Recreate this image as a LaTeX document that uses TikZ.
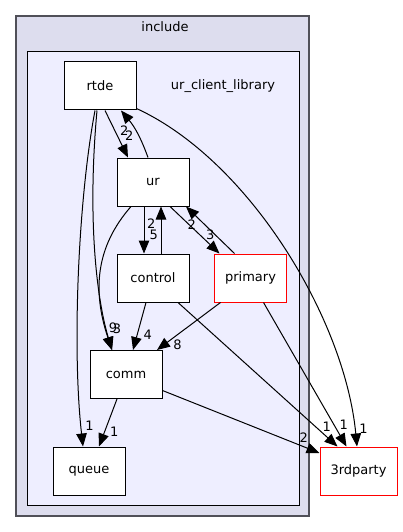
\documentclass[tikz,border=0pt]{standalone}
\usepackage{fontspec}
\setmainfont{DejaVu Sans}
\usepackage{tikz}
\usetikzlibrary{
  arrows.meta,%
  positioning
}
\definecolor{outerfill}{HTML}{DDDDEE}
\definecolor{innerfill}{HTML}{EEEEFF}
\definecolor{outerline}{HTML}{505058}
\tikzset{>={Triangle[length=13pt,width=10.5pt]}}
\tikzset{font=\fontsize{13}{15}\selectfont}
\tikzset{dirbox/.style={draw, fill=white, line width=1pt, minimum width=72pt,
    minimum height=48pt, inner sep=0pt},
  extbox/.style={dirbox, draw=red},
  dep/.style={->, line width=1pt},
  num/.style={inner sep=1pt}}

\begin{document}
\begin{tikzpicture}[x=1pt, y=-1pt]
  \useasboundingbox (0,0) rectangle (403,532);
  % clusters
  \draw[outerline, fill=outerfill, line width=1.4pt] (16,16) rectangle (309,516);
  \node (inc) at (165,27) {include};
  \draw[fill=innerfill, line width=1pt] (27,52) rectangle (299,505);
  \node (lib) at (223,86) {ur\_client\_library};

  % directories
  \node[dirbox] (rtde) at (100,86) {rtde};
  \node[dirbox] (ur) at (153,182) {ur};
  \node[dirbox] (control) at (153,278) {control};
  \node[extbox] (primary) at (250.5,278) {primary};
  \node[dirbox] (comm) at (126,374.5) {comm};
  \node[dirbox] (queue) at (89,471) {queue};
  \node[extbox, minimum width=77pt] (thirdparty) at (358.5,471) {3rdparty};

  % dependencies
  \draw[dep] ([xshift=5pt]rtde.south) -- node[num, pos=0.42, right=4pt] {2}
    ([xshift=-25pt]ur.north);
  \draw[dep] ([xshift=-5pt]ur.north) to[bend right=10]
    node[num, pos=0.42, left=4pt] {2} ([xshift=21pt]rtde.south);
  \draw[dep] ([xshift=-5pt]rtde.south) .. controls +(-17,90) and +(-11,-97) ..
    ([xshift=-6pt]queue.north) node[num, pos=0.93, right=3pt] {1};
  \draw[dep] ([xshift=-3pt]rtde.south) .. controls +(-10,110) and +(-15,-50) ..
    ([xshift=-14pt]comm.north) node[num, pos=0.87, right=5pt] {3};
  \draw[dep] ([xshift=-22pt]ur.south) .. controls +(-35,40) and +(-20,-60) ..
    ([xshift=-14pt]comm.north) node[num, pos=0.87, right=2pt] {9};
  \draw[dep] ([yshift=2pt]rtde.south east) .. controls +(113,52) and +(-12,-127) ..
    ([xshift=-1.5pt]thirdparty.north) node[num, pos=0.955, right=3pt] {1};
  \draw[dep] ([xshift=-9pt]ur.south) -- ([xshift=-9pt]control.north)
    node[num, pos=0.6, right=4pt] {5};
  \draw[dep] ([xshift=8pt]control.north) -- ([xshift=8pt]ur.south)
    node[num, pos=0.64, left=4pt] {2};
  \draw[dep] ([xshift=17pt]ur.south) -- ([xshift=-31pt]primary.north)
    node[num, pos=0.6, right=5pt] {3};
  \draw[dep] ([xshift=-16pt]primary.north) -- ([xshift=33pt]ur.south)
    node[num, pos=0.62, left=7pt] {2};
  \draw[dep] ([xshift=-7pt]control.south) -- ([xshift=7pt]comm.north)
    node[num, pos=0.68, right=5pt] {4};
  \draw[dep] ([xshift=25pt]control.south) -- ([xshift=-21pt]thirdparty.north)
    node[num, pos=0.86, right=6pt] {1};
  \draw[dep] ([xshift=-30pt]primary.south) -- ([xshift=31pt]comm.north)
    node[num, pos=0.89, right=8pt] {8};
  \draw[dep] ([xshift=13pt]primary.south) -- ([xshift=-12pt]thirdparty.north)
    node[num, pos=0.85, right=4pt] {1};
  \draw[dep] ([yshift=-16pt]comm.east) -- ([yshift=18pt]thirdparty.west)
    node[num, pos=0.9, above=3pt] {2};
  \draw[dep] ([xshift=-9pt]comm.south) -- ([xshift=10pt]queue.north)
    node[num, pos=0.69, right=4pt] {1};
\end{tikzpicture}
\end{document}
